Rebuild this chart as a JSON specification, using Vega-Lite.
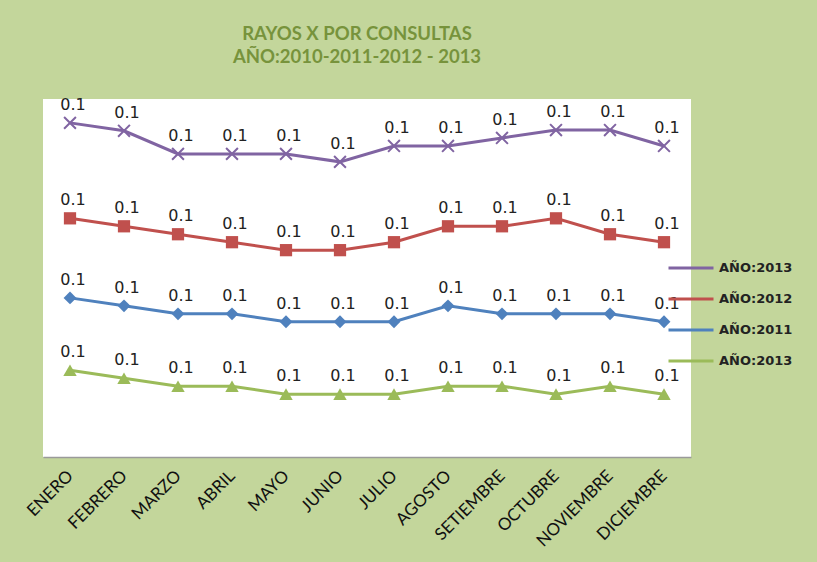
{
  "$schema": "https://vega.github.io/schema/vega-lite/v6.json",
  "width": 648,
  "height": 358,
  "autosize": {"type": "none"},
  "padding": {"left": 43, "top": 99, "right": 126, "bottom": 105},
  "background": "#C3D69B",
  "title": {
    "text": ["RAYOS X POR CONSULTAS", "AÑO:2010-2011-2012 - 2013"],
    "font": "Lato",
    "fontSize": 18.5,
    "fontWeight": "bold",
    "lineHeight": 23,
    "color": "#77933C",
    "anchor": "middle",
    "dx": -10,
    "offset": 30
  },
  "config": {
    "view": {"fill": "white", "stroke": null},
    "legend": {
      "orient": "none",
      "legendX": 624,
      "legendY": 145,
      "symbolType": "stroke",
      "symbolSize": 2025,
      "symbolStrokeWidth": 3,
      "labelFont": "DejaVu Sans",
      "labelFontSize": 13,
      "labelFontWeight": "bold",
      "labelColor": "#222222",
      "labelOffset": 4,
      "rowPadding": -4,
      "title": null
    }
  },
  "data": {
    "values": [
      {"mes": "ENERO", "serie": "AÑO:2010", "v": 0.109},
      {"mes": "FEBRERO", "serie": "AÑO:2010", "v": 0.099},
      {"mes": "MARZO", "serie": "AÑO:2010", "v": 0.089},
      {"mes": "ABRIL", "serie": "AÑO:2010", "v": 0.089},
      {"mes": "MAYO", "serie": "AÑO:2010", "v": 0.079},
      {"mes": "JUNIO", "serie": "AÑO:2010", "v": 0.079},
      {"mes": "JULIO", "serie": "AÑO:2010", "v": 0.079},
      {"mes": "AGOSTO", "serie": "AÑO:2010", "v": 0.089},
      {"mes": "SETIEMBRE", "serie": "AÑO:2010", "v": 0.089},
      {"mes": "OCTUBRE", "serie": "AÑO:2010", "v": 0.079},
      {"mes": "NOVIEMBRE", "serie": "AÑO:2010", "v": 0.089},
      {"mes": "DICIEMBRE", "serie": "AÑO:2010", "v": 0.079},
      {"mes": "ENERO", "serie": "AÑO:2011", "v": 0.091},
      {"mes": "FEBRERO", "serie": "AÑO:2011", "v": 0.091},
      {"mes": "MARZO", "serie": "AÑO:2011", "v": 0.091},
      {"mes": "ABRIL", "serie": "AÑO:2011", "v": 0.091},
      {"mes": "MAYO", "serie": "AÑO:2011", "v": 0.091},
      {"mes": "JUNIO", "serie": "AÑO:2011", "v": 0.091},
      {"mes": "JULIO", "serie": "AÑO:2011", "v": 0.091},
      {"mes": "AGOSTO", "serie": "AÑO:2011", "v": 0.101},
      {"mes": "SETIEMBRE", "serie": "AÑO:2011", "v": 0.091},
      {"mes": "OCTUBRE", "serie": "AÑO:2011", "v": 0.101},
      {"mes": "NOVIEMBRE", "serie": "AÑO:2011", "v": 0.091},
      {"mes": "DICIEMBRE", "serie": "AÑO:2011", "v": 0.091},
      {"mes": "ENERO", "serie": "AÑO:2012", "v": 0.100},
      {"mes": "FEBRERO", "serie": "AÑO:2012", "v": 0.100},
      {"mes": "MARZO", "serie": "AÑO:2012", "v": 0.100},
      {"mes": "ABRIL", "serie": "AÑO:2012", "v": 0.090},
      {"mes": "MAYO", "serie": "AÑO:2012", "v": 0.090},
      {"mes": "JUNIO", "serie": "AÑO:2012", "v": 0.090},
      {"mes": "JULIO", "serie": "AÑO:2012", "v": 0.100},
      {"mes": "AGOSTO", "serie": "AÑO:2012", "v": 0.100},
      {"mes": "SETIEMBRE", "serie": "AÑO:2012", "v": 0.110},
      {"mes": "OCTUBRE", "serie": "AÑO:2012", "v": 0.120},
      {"mes": "NOVIEMBRE", "serie": "AÑO:2012", "v": 0.100},
      {"mes": "DICIEMBRE", "serie": "AÑO:2012", "v": 0.100},
      {"mes": "ENERO", "serie": "AÑO:2013", "v": 0.120},
      {"mes": "FEBRERO", "serie": "AÑO:2013", "v": 0.120},
      {"mes": "MARZO", "serie": "AÑO:2013", "v": 0.101},
      {"mes": "ABRIL", "serie": "AÑO:2013", "v": 0.111},
      {"mes": "MAYO", "serie": "AÑO:2013", "v": 0.121},
      {"mes": "JUNIO", "serie": "AÑO:2013", "v": 0.111},
      {"mes": "JULIO", "serie": "AÑO:2013", "v": 0.121},
      {"mes": "AGOSTO", "serie": "AÑO:2013", "v": 0.101},
      {"mes": "SETIEMBRE", "serie": "AÑO:2013", "v": 0.111},
      {"mes": "OCTUBRE", "serie": "AÑO:2013", "v": 0.111},
      {"mes": "NOVIEMBRE", "serie": "AÑO:2013", "v": 0.131},
      {"mes": "DICIEMBRE", "serie": "AÑO:2013", "v": 0.121}
    ]
  },
  "transform": [
    {"stack": "v", "groupby": ["mes"], "sort": [{"field": "serie", "order": "ascending"}], "as": ["v0", "v1"]}
  ],
  "encoding": {
    "x": {
      "field": "mes",
      "type": "nominal",
      "sort": null,
      "scale": {"type": "point", "padding": 0.5},
      "axis": {
        "title": null,
        "labelAngle": -45,
        "labelAlign": "right",
        "labelBaseline": "middle",
        "labelFont": "Lato",
        "labelFontSize": 17,
        "labelColor": "#111111",
        "labelPadding": 16,
        "ticks": false,
        "domainColor": "#9a9a9a",
        "domainWidth": 1.5,
        "grid": false
      }
    },
    "y": {
      "field": "v1",
      "type": "quantitative",
      "scale": {"domain": [0, 0.45], "nice": false},
      "axis": null
    }
  },
  "layer": [
    {
      "mark": {"type": "line", "strokeWidth": 3},
      "encoding": {
        "color": {
          "field": "serie",
          "type": "nominal",
          "scale": {
            "domain": ["AÑO:2013", "AÑO:2012", "AÑO:2011", "AÑO:2010"],
            "range": ["#8064A2", "#C0504D", "#4F81BD", "#9BBB59"]
          },
          "legend": {"labelExpr": "datum.label == 'AÑO:2010' ? 'AÑO:2013' : datum.label"}
        }
      }
    },
    {
      "transform": [{"filter": "datum.serie == 'AÑO:2013'"}],
      "mark": {"type": "point", "shape": "M-1,-1L1,1M-1,1L1,-1", "filled": false, "size": 140, "strokeWidth": 2, "opacity": 1},
      "encoding": {"color": {"field": "serie", "type": "nominal"}}
    },
    {
      "transform": [{"filter": "datum.serie != 'AÑO:2013'"}],
      "mark": {"type": "point", "filled": true, "opacity": 1},
      "encoding": {
        "color": {"field": "serie", "type": "nominal"},
        "shape": {
          "field": "serie",
          "type": "nominal",
          "scale": {"domain": ["AÑO:2012", "AÑO:2011", "AÑO:2010"], "range": ["square", "diamond", "triangle-up"]},
          "legend": null
        },
        "size": {
          "field": "serie",
          "type": "nominal",
          "scale": {"domain": ["AÑO:2012", "AÑO:2011", "AÑO:2010"], "range": [150, 180, 170]},
          "legend": null
        }
      }
    },
    {
      "mark": {"type": "text", "font": "DejaVu Sans", "fontSize": 16, "color": "#222222", "dx": 3, "dy": -18},
      "encoding": {"text": {"field": "v", "type": "quantitative", "format": ".1f"}}
    }
  ]
}
